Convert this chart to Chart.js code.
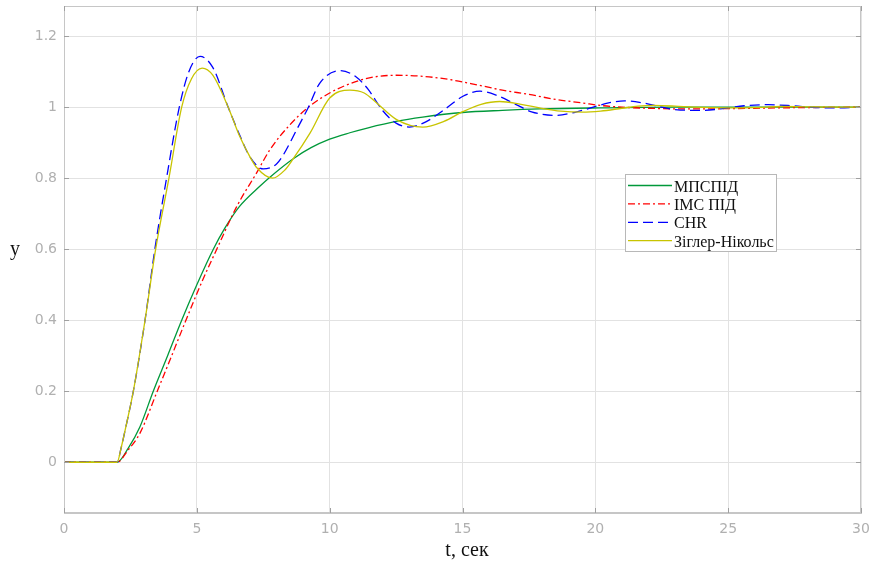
<!DOCTYPE html>
<html>
<head>
<meta charset="utf-8">
<script src="https://cdn.jsdelivr.net/npm/chart.js@4.4.0/dist/chart.umd.min.js"></script>
<style>
  html, body { margin: 0; padding: 0; background: #fff; }
  #wrap { width: 869px; height: 562px; }
</style>
</head>
<body>
<div id="wrap"><canvas id="stepChart" width="869" height="562"></canvas></div>
<script>
// step responses of the four controllers
const seriesNames = ['МПСПІД', 'IMC ПІД', 'CHR', 'Зіглер-Нікольс'];
const xTicks = [0, 5, 10, 15, 20, 25, 30];
const yTicks = [0, 0.2, 0.4, 0.6, 0.8, 1, 1.2];

const tMpc = [0, 2, 2.42, 2.86, 3.36, 3.9, 4.43, 5.0, 5.62, 6.06, 6.6, 7.38, 7.75, 8.63, 9.3, 10.0, 10.76, 11.45, 12.5, 13.5, 15.0, 16.5, 17.9, 20.2, 23, 30];
const yMpc = [0, 0, 0.04, 0.1, 0.2, 0.3, 0.4, 0.5, 0.6, 0.66, 0.72, 0.778, 0.803, 0.855, 0.886, 0.91, 0.928, 0.942, 0.96, 0.972, 0.985, 0.991, 0.995, 0.998, 1.0, 1.0];

const tImc = [0, 2, 2.42, 2.86, 3.51, 4.0, 4.59, 5.2, 5.75, 6.5, 7.25, 7.75, 8.51, 9.2, 10.0, 10.76, 11.45, 12.5, 13.5, 14.5, 15.6, 16.5, 17.5, 18.5, 19.5, 20.3, 21.0, 22.0, 23.7, 26, 28, 30];
const yImc = [0, 0, 0.035, 0.082, 0.2, 0.29, 0.40, 0.51, 0.60, 0.72, 0.815, 0.88, 0.951, 1.0, 1.04, 1.066, 1.082, 1.09, 1.087, 1.078, 1.062, 1.048, 1.036, 1.022, 1.012, 1.004, 1.0, 0.997, 0.995, 0.997, 0.999, 1.0];

const tChr = [0, 2, 2.15, 2.3, 2.61, 3.05, 3.42, 3.86, 4.34, 4.7, 5.12, 5.6, 6.18, 6.62, 7.0, 7.5, 8.0, 8.25, 8.76, 9.2, 9.63, 10.42, 11.0, 11.45, 12.0, 12.5, 13.0, 13.6, 14.33, 15.0, 15.66, 16.3, 17.0, 17.6, 18.5, 19.2, 19.92, 20.5, 21.1, 21.8, 22.5, 23.2, 24.0, 24.8, 25.6, 26.5, 27.4, 28.3, 29.2, 30];
const yChr = [0, 0, 0.04, 0.09, 0.2, 0.4, 0.6, 0.8, 1.0, 1.1, 1.143, 1.112, 1.0, 0.92, 0.86, 0.826, 0.84, 0.865, 0.937, 1.0, 1.068, 1.103, 1.085, 1.05, 0.99, 0.955, 0.944, 0.958, 0.994, 1.03, 1.045, 1.033, 1.008, 0.987, 0.977, 0.985, 1.0, 1.012, 1.018, 1.012, 1.0, 0.992, 0.991, 0.996, 1.004, 1.007, 1.004, 0.999, 0.998, 1.0];

const tZn = [0, 2, 2.15, 2.3, 2.61, 3.05, 3.45, 3.95, 4.43, 4.8, 5.2, 5.6, 6.18, 6.6, 7.0, 7.25, 7.85, 8.3, 8.63, 9.26, 10.0, 10.76, 11.3, 11.77, 12.52, 13.5, 14.3, 15.03, 15.7, 16.4, 17.2, 17.9, 18.7, 19.5, 20.2, 21.0, 21.6, 22.2, 23.0, 23.7, 25, 26, 27, 28, 30];
const yZn = [0, 0, 0.04, 0.09, 0.2, 0.4, 0.6, 0.8, 1.0, 1.08, 1.11, 1.09, 1.0, 0.92, 0.86, 0.83, 0.80, 0.822, 0.855, 0.927, 1.026, 1.048, 1.04, 1.012, 0.965, 0.944, 0.96, 0.988, 1.008, 1.016, 1.008, 0.998, 0.989, 0.986, 0.989, 0.997, 1.003, 1.005, 1.003, 1.0, 0.998, 0.999, 1.002, 1.001, 1.0];

const pts = (ts, ys) => ts.map((t, i) => ({ x: t, y: ys[i] }));

function line(label, ts, ys, color, dash, order) {
  return {
    label, data: pts(ts, ys), borderColor: color, borderWidth: 1.3,
    borderDash: dash, pointRadius: 0, fill: false,
    cubicInterpolationMode: 'monotone', order
  };
}

const datasets = [
  line(seriesNames[0], tMpc, yMpc, '#00993a', [], 4),
  line(seriesNames[1], tImc, yImc, '#ff0000', [7, 3, 2, 3], 3),
  line(seriesNames[2], tChr, yChr, '#0000ff', [10, 5], 2),
  line(seriesNames[3], tZn, yZn, '#c8c400', [], 1)
];

// box, inner ticks, legend and axis titles
const frame = {
  id: 'frame',
  afterDraw(chart) {
    const { ctx, chartArea: a, scales: { x, y } } = chart;
    ctx.save();
    ctx.strokeStyle = '#c6c6c6';
    ctx.lineWidth = 1;
    ctx.strokeRect(a.left + 0.5, a.top + 0.5, a.right - a.left - 1, a.bottom - a.top - 1);

    ctx.strokeStyle = '#a0a0a0';
    ctx.beginPath();
    xTicks.forEach(v => {
      const px = Math.round(x.getPixelForValue(v)) + 0.5;
      ctx.moveTo(px, a.bottom); ctx.lineTo(px, a.bottom - 5);
      ctx.moveTo(px, a.top); ctx.lineTo(px, a.top + 5);
    });
    yTicks.forEach(v => {
      const py = Math.round(y.getPixelForValue(v)) + 0.5;
      ctx.moveTo(a.left, py); ctx.lineTo(a.left + 5, py);
      ctx.moveTo(a.right, py); ctx.lineTo(a.right - 5, py);
    });
    ctx.stroke();

    // legend
    const lx = 625.5, ly = 174.5, lw = 151, lh = 77;
    ctx.fillStyle = '#fff';
    ctx.fillRect(lx, ly, lw, lh);
    ctx.strokeStyle = '#b8b8b8';
    ctx.strokeRect(lx, ly, lw, lh);
    ctx.font = '16px "Liberation Serif", "Times New Roman", serif';
    ctx.textBaseline = 'alphabetic';
    ctx.textAlign = 'left';
    [0, 1, 2, 3].forEach(i => {
      const ds = datasets[i];
      const yy = 185.5 + i * 18.4;
      ctx.strokeStyle = ds.borderColor;
      ctx.lineWidth = 1.3;
      ctx.setLineDash(ds.borderDash);
      ctx.beginPath();
      ctx.moveTo(628, yy); ctx.lineTo(672, yy);
      ctx.stroke();
      ctx.setLineDash([]);
      ctx.fillStyle = '#111';
      ctx.fillText(ds.label, 674, yy + 6);
    });

    // axis titles
    ctx.fillStyle = '#111';
    ctx.font = '20px "Liberation Serif", "Times New Roman", serif';
    ctx.textAlign = 'center';
    ctx.fillText('y', 15, 255);
    ctx.fillText('t, сек', 467, 556);
    ctx.restore();
  }
};

const tickFont = { family: '"DejaVu Sans", sans-serif', size: 14 };
const noEdgePad = s => { s.paddingTop = 0; s.paddingBottom = 0; s.paddingLeft = 0; s.paddingRight = 0; };

new Chart(document.getElementById('stepChart').getContext('2d'), {
  type: 'line',
  data: { datasets },
  options: {
    responsive: false,
    devicePixelRatio: 1,
    animation: false,
    layout: { padding: { top: 6, right: 8, left: 0, bottom: 0 } },
    plugins: { legend: { display: false }, tooltip: { enabled: false } },
    scales: {
      x: {
        type: 'linear', min: 0, max: 30,
        afterBuildTicks: s => { s.ticks = xTicks.map(v => ({ value: v })); },
        afterFit: s => { s.height = 49; noEdgePad(s); },
        grid: { color: '#e2e2e2', drawTicks: false },
        border: { color: '#c6c6c6' },
        ticks: { color: '#b0b0b0', font: tickFont, padding: 8, maxRotation: 0 }
      },
      y: {
        type: 'linear', min: -0.143, max: 1.285,
        afterBuildTicks: s => { s.ticks = yTicks.map(v => ({ value: v })); },
        afterFit: s => { s.width = 64; noEdgePad(s); },
        grid: { color: '#e2e2e2', drawTicks: false },
        border: { color: '#c6c6c6' },
        ticks: { color: '#b0b0b0', font: tickFont, padding: 7, callback: v => String(+v.toFixed(1)) }
      }
    }
  },
  plugins: [frame]
});
</script>
</body>
</html>
